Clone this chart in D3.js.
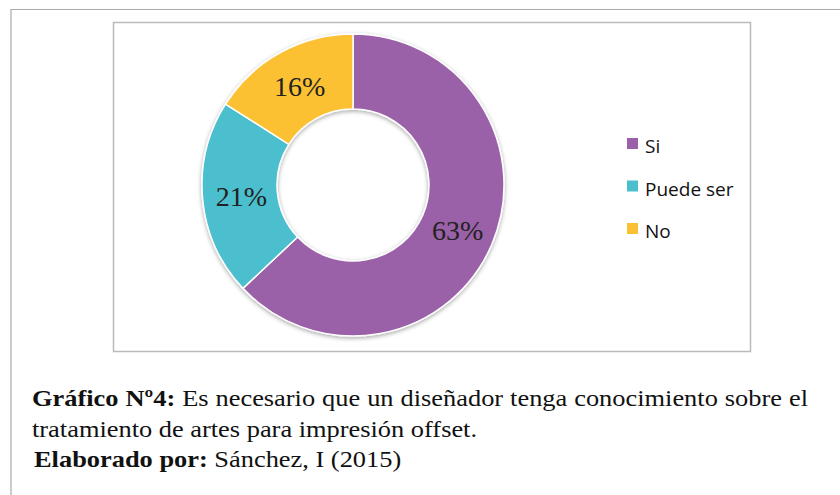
<!DOCTYPE html>
<html>
<head>
<meta charset="utf-8">
<script src="https://cdn.jsdelivr.net/npm/d3@7"></script>
<style>
  body { margin: 0; background: #fff; }
  svg { display: block; }
</style>
</head>
<body>
<svg id="chart" width="840" height="495"></svg>
<script>
// data
var categories = ["Si", "Puede ser", "No"]
var values = [63, 21, 16]
var colors = ["#9a60a8", "#4bbfcd", "#fcc133"]
var captionLines = [
  [{b: true, t: "Gráfico Nº4:"}, {b: false, t: " Es necesario que un diseñador tenga conocimiento sobre el"}],
  [{b: false, t: "tratamiento de artes para impresión offset."}],
  [{b: true, t: "Elaborado por:"}, {b: false, t: " Sánchez, I (2015)"}]
]

var svg = d3.select("#chart")

var defs = svg.append("defs")
var f = defs.append("filter").attr("id", "shadow")
  .attr("x", "-10%").attr("y", "-10%").attr("width", "120%").attr("height", "120%")
f.append("feDropShadow").attr("dx", 0).attr("dy", 1.5).attr("stdDeviation", 2)
  .attr("flood-color", "#000").attr("flood-opacity", 0.35)

// outer page frame
svg.append("path")
  .attr("d", "M11,500 L11,9.5 L845,9.5")
  .attr("fill", "none").attr("stroke", "#aaa").attr("stroke-width", 1.2)

// chart frame
svg.append("rect")
  .attr("x", 113.5).attr("y", 22.5).attr("width", 637).attr("height", 329)
  .attr("fill", "#fff").attr("stroke", "#bbb").attr("stroke-width", 1.5)

var cx = 353, cy = 185, rOut = 151, rIn = 76

var pie = d3.pie().sort(null).value(d => d)
var arcs = pie(values)
var arc = d3.arc().innerRadius(rIn).outerRadius(rOut)
var lblArc = d3.arc().innerRadius(113).outerRadius(113)

var g = svg.append("g").attr("transform", "translate(" + cx + "," + cy + ")")

g.append("g").attr("filter", "url(#shadow)")
  .selectAll("path")
  .data(arcs)
  .join("path")
  .attr("d", arc)
  .attr("fill", (d, i) => colors[i])
  .attr("stroke", "#fff")
  .attr("stroke-width", 1.5)

g.selectAll("text.lbl")
  .data(arcs)
  .join("text")
  .attr("class", "lbl")
  .attr("x", d => lblArc.centroid(d)[0] + 1)
  .attr("y", d => lblArc.centroid(d)[1] + 10)
  .attr("text-anchor", "middle")
  .attr("font-family", "Liberation Serif, Times New Roman, serif")
  .attr("font-size", 28)
  .attr("fill", "#222")
  .text(d => d.data + "%")

// legend
var lg = svg.append("g").attr("transform", "translate(627,138)")
var items = lg.selectAll("g")
  .data(categories)
  .join("g")
  .attr("transform", (d, i) => "translate(0," + i * 42.5 + ")")
items.append("rect")
  .attr("width", 11).attr("height", 11)
  .attr("fill", (d, i) => colors[i])
items.append("text")
  .attr("x", 18).attr("y", 15)
  .attr("font-family", "Open Sans, sans-serif")
  .attr("font-size", 19)
  .attr("fill", "#111")
  .text(d => d)

// caption: the source image is stretched a bit horizontally
var sx = 1.1
var cap = svg.append("g")
var capX = [32, 32, 34]
var capY = [406, 437, 467]
captionLines.forEach(function (line, i) {
  var t = cap.append("text")
    .attr("transform", "translate(" + capX[i] + "," + capY[i] + ") scale(" + sx + ",1)")
    .attr("font-family", "Liberation Serif, Times New Roman, serif")
    .attr("font-size", 24)
    .attr("fill", "#111")
  line.forEach(function (s) {
    t.append("tspan").attr("font-weight", s.b ? "bold" : "normal").text(s.t)
  })
  if (i == 0) {
    var w = t.node().getComputedTextLength()
    var nsp = line.map(s => s.t).join("").split(" ").length - 1
    t.attr("word-spacing", Math.max(0, (776 / sx - w) / nsp))
  }
})
</script>
</body>
</html>
